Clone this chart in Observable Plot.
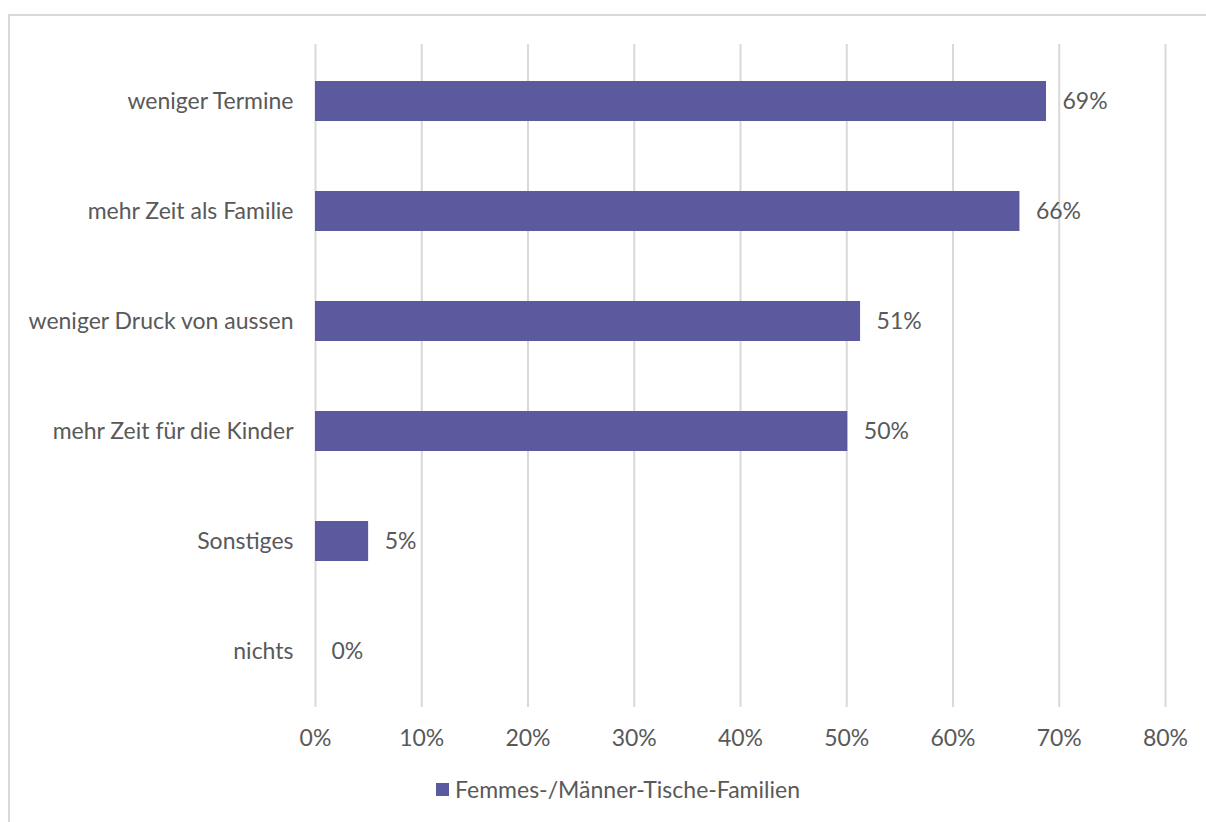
<!DOCTYPE html>
<html>
<head>
<meta charset="utf-8">
<script src="https://cdn.jsdelivr.net/npm/d3@7"></script>
<script src="https://cdn.jsdelivr.net/npm/@observablehq/plot@0.6"></script>
<style>
  html, body { margin: 0; padding: 0; background: #fff; width: 1206px; height: 822px; overflow: hidden; }
  body { position: relative; font-family: Lato, "Open Sans", sans-serif; }
  #frame { position: absolute; left: 8px; top: 14px; width: 1210px; height: 820px; border: 2px solid #d9d9d9; box-sizing: border-box; }
  #chart { position: absolute; left: 0; top: 0; }
  #legend { position: absolute; left: 436px; top: 775px; font-size: 23px; color: #595959; display: flex; align-items: center; gap: 6px; }
  #legend .sw { width: 13px; height: 13px; background: #5b5a9f; display: inline-block; }
</style>
</head>
<body>
<div id="frame"></div>
<div id="chart"></div>
<div id="legend"><span class="sw"></span><span id="legendText"></span></div>
<script>
const categories = ["weniger Termine", "mehr Zeit als Familie", "weniger Druck von aussen", "mehr Zeit für die Kinder", "Sonstiges", "nichts"];
const values = [0.688, 0.663, 0.513, 0.501, 0.050, 0.0];
const valueLabels = ["69%", "66%", "51%", "50%", "5%", "0%"];
const xTicks = [0, 0.1, 0.2, 0.3, 0.4, 0.5, 0.6, 0.7, 0.8];
const seriesName = "Femmes-/Männer-Tische-Familien";

const data = categories.map((c, i) => ({ category: c, value: values[i], label: valueLabels[i] }));
document.getElementById("legendText").textContent = seriesName;

const FS = 23;
const chart = Plot.plot({
  width: 1206,
  height: 760,
  marginLeft: 315,
  marginRight: 41,
  marginTop: 44,
  marginBottom: 53,
  style: { fontFamily: "Lato, 'Open Sans', sans-serif", fontSize: FS + "px", color: "#595959", background: "transparent" },
  x: { domain: [0, 0.8], label: null },
  y: { domain: categories, paddingInner: 0.64, paddingOuter: 0.32, label: null },
  marks: [
    Plot.ruleX(xTicks, { stroke: "#d9d9d9", strokeWidth: 2 }),
    Plot.barX(data, { x: "value", y: "category", fill: "#5b5a9f" }),
    Plot.text(data, { x: "value", y: "category", text: "label", textAnchor: "start", dx: 16, fill: "#595959", fontSize: FS }),
    Plot.axisX({ ticks: xTicks, tickFormat: d => Math.round(d * 100) + "%", tickSize: 0, tickPadding: 22, fontSize: FS, fill: "#595959", label: null }),
    Plot.axisY({ tickSize: 0, tickPadding: 22, fontSize: FS, fill: "#595959", label: null })
  ]
});
document.getElementById("chart").appendChild(chart);
</script>
</body>
</html>
